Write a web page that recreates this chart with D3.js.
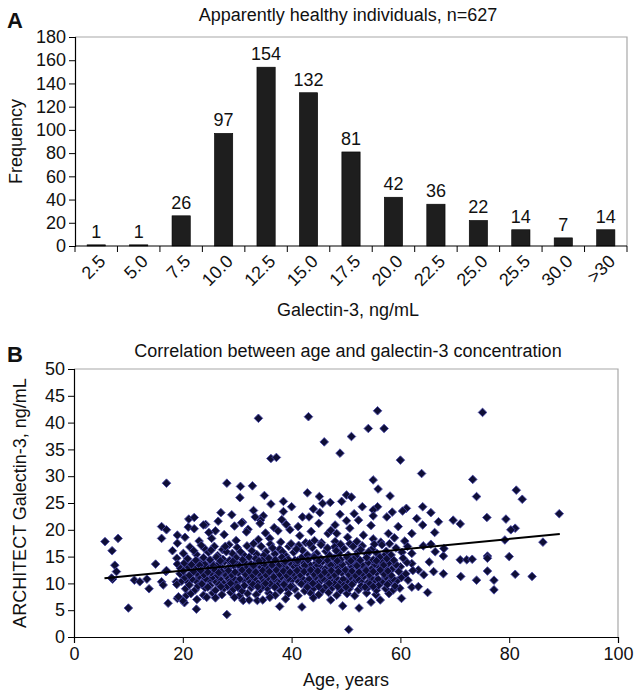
<!DOCTYPE html>
<html><head><meta charset="utf-8">
<script src="https://cdn.jsdelivr.net/npm/d3@7"></script>
<style>
body{margin:0;background:#fff}
text{font-family:"Liberation Sans",Arial,Helvetica,sans-serif;fill:#111}
</style>
</head><body>
<svg id="chart" width="634" height="693"></svg>
<script>
// ---------- Panel A data ----------
const binLabels = ["2.5","5.0","7.5","10.0","12.5","15.0","17.5","20.0","22.5","25.0","25.5","30.0",">30"];
const frequencies = [1,1,26,97,154,132,81,42,36,22,14,7,14];
const freqTicks = [0,20,40,60,80,100,120,140,160,180];

// ---------- Panel B data ----------
const ageTicks = [0,20,40,60,80,100];
const galTicks = [0,5,10,15,20,25,30,35,40,45,50];
const trendLine = [[5.6,10.95],[89.3,19.2]];
const scatterPoints = [
// > 30
[33.9,40.8],[43.1,41.1],[55.8,42.2],[54.1,38.9],[57.0,38.9],[51.0,37.4],[46.0,36.4],[48.9,34.3],[36.2,33.3],[37.2,33.5],[60.0,33.0],[63.9,30.5],[75.1,41.9],
// 27.5 - 30
[17.0,28.7],[28.1,28.7],[30.6,28.1],[32.8,28.2],[55.0,29.3],[73.3,29.4],[55.9,27.6],
// 25 - 27.5
[30.5,26.0],[35.0,26.4],[42.9,26.9],[45.1,26.2],[50.1,26.5],[51.0,26.1],[58.1,26.3],[74.0,26.2],[81.3,27.4],[82.4,25.7],[38.5,25.3],[49.2,25.3],[47.1,25.1],
// 22.5 - 25
[45.7,24.9],[40.0,24.3],[53.0,24.3],[55.8,24.3],[61.1,24.0],[64.1,24.3],[33.0,23.6],[38.5,23.4],[45.2,23.2],[48.9,22.9],[27.0,23.2],[55.0,23.7],[60.4,23.5],[65.6,23.2],[89.2,23.0],[34.8,22.6],[55.0,22.6],[44.0,23.9],[36.2,24.8],[51.5,23.0],[29.0,22.8],[58.5,23.3],
// 20 - 22.5
[16.1,20.6],[21.0,20.5],[22.1,20.2],[24.2,21.0],[21.1,22.0],[22.1,22.3],[29.5,20.7],[31.0,21.4],[32.0,20.1],[34.3,21.8],[33.3,22.4],[38.2,21.9],[42.0,22.4],[43.2,22.4],[50.1,21.7],[52.3,21.8],[57.5,22.4],[59.6,20.6],[63.0,22.1],[41.2,20.6],[48.0,20.9],[50.7,20.3],[64.1,20.9],[67.0,21.5],[69.7,21.8],[71.0,21.1],[75.9,22.3],[79.4,22.0],[81.1,20.3],[30.8,21.3],[34.2,21.2],[23.8,20.9],[45.0,21.2],[26.5,21.6],[36.8,20.4],[54.6,20.8],[39.0,21.0],
// 17.5 - 20
[5.7,17.8],[8.1,18.4],[16.1,18.4],[19.0,19.0],[17.0,20.0],[25.3,18.4],[36.0,18.4],[39.7,20.0],[46.7,19.3],[48.3,19.3],[53.2,19.0],[55.0,18.3],[57.8,19.3],[62.1,19.3],[66.3,19.5],[79.2,18.1],[86.2,17.7],[80.3,20.0],[48.0,17.8],[45.5,17.6],[20.4,18.6],[23.0,17.9],[27.6,19.1],[29.8,18.0],[31.7,19.6],[33.9,18.2],[38.0,17.7],[41.5,18.9],[43.6,19.7],[44.2,18.0],[50.3,18.6],[52.0,17.8],[56.4,17.7],[58.9,18.5],[60.8,17.9],[26.0,19.8],[35.2,19.4],[42.6,17.6],[24.8,19.5],[37.5,19.8],[47.2,19.9],
// 15 - 17.5
[7.0,16.1],[18.1,16.1],[19.0,17.5],[20.1,15.6],[24.1,16.4],[62.1,15.6],[66.4,15.9],[67.9,15.1],[76.0,15.1],[64.2,17.0],[65.6,17.3],[68.0,16.5],[50.7,17.4],
[21.3,16.8],[22.5,15.4],[23.4,17.1],[24.7,15.8],[25.8,16.9],[26.4,15.2],[27.3,16.3],[28.5,17.2],[29.1,15.6],[30.0,16.7],[31.2,15.3],[31.8,17.0],[32.7,16.1],[33.6,15.4],[34.4,16.9],[35.3,15.9],[36.1,17.3],[36.9,15.5],[37.8,16.4],[38.9,15.2],[39.5,16.9],[40.4,15.8],[41.3,17.1],[42.0,16.2],[42.9,15.3],[43.8,16.7],[44.6,15.6],[45.4,17.2],[46.3,16.0],[47.0,15.2],[47.9,16.8],[48.7,15.7],[49.6,16.5],[50.4,15.3],[51.3,16.9],[52.2,15.9],[53.0,17.0],[53.9,15.4],[54.8,16.4],[55.7,15.6],[56.6,17.2],[57.4,16.0],[58.3,15.3],[59.2,16.6],[60.3,15.8],[61.3,16.9],[25.2,16.2],[28.0,15.9],[33.0,17.4],[38.3,15.9],[43.3,17.4],[49.0,17.3],[52.7,16.3],[55.2,17.3],[58.0,17.4],[34.9,15.2],[40.9,16.4],[46.6,16.6],[30.6,15.9],[44.1,15.1],[57.0,15.1],[22.0,16.1],[36.5,16.6],[51.8,15.1],[48.2,16.1],[27.8,16.9],[39.9,17.4],[54.2,15.9],
// 12.5 - 15
[7.5,13.4],[15.0,13.6],[18.9,14.7],[62.1,13.7],[65.3,14.0],[71.0,14.4],[72.2,14.4],[73.2,14.5],[76.0,14.7],[80.0,15.0],[19.0,13.6],
[19.6,12.8],[21.0,13.1],[22.2,12.7],[23.5,13.2],[24.6,12.9],[25.9,12.6],[27.0,13.1],[28.3,12.8],[29.4,13.3],[30.7,12.7],[31.8,13.0],[33.1,12.6],[34.2,13.2],[35.5,12.9],[36.6,12.7],[37.9,13.1],[39.0,12.8],[40.3,13.3],[41.4,12.6],[42.7,13.0],[43.8,12.8],[45.1,13.2],[46.2,12.7],[47.5,13.1],[48.6,12.9],[49.9,12.6],[51.0,13.2],[52.3,12.8],[53.4,13.0],[54.7,12.7],[55.8,13.3],[57.1,12.9],[58.4,12.6],[60.0,13.1],
[20.3,13.8],[21.6,13.5],[22.9,14.0],[24.0,13.6],[25.3,13.9],[26.5,13.5],[27.7,14.1],[28.9,13.7],[30.1,13.5],[31.3,14.0],[32.5,13.6],[33.7,13.9],[34.9,13.5],[36.1,14.1],[37.3,13.7],[38.5,13.5],[39.7,13.9],[40.9,13.6],[42.1,14.0],[43.3,13.5],[44.5,13.8],[45.7,14.1],[46.9,13.6],[48.1,13.9],[49.3,13.5],[50.5,14.0],[51.7,13.7],[52.9,13.5],[54.1,13.9],[55.3,13.6],[56.5,14.1],[57.8,13.7],[59.2,13.5],[61.2,13.9],
[20.9,14.6],[22.4,14.3],[23.8,14.8],[25.0,14.4],[26.2,14.9],[27.4,14.5],[28.6,14.3],[29.8,14.8],[31.0,14.4],[32.2,14.9],[33.4,14.6],[34.6,14.3],[35.8,14.7],[37.0,14.4],[38.2,14.9],[39.4,14.5],[40.6,14.3],[41.8,14.8],[43.0,14.4],[44.2,14.9],[45.4,14.6],[46.6,14.3],[47.8,14.7],[49.0,14.4],[50.2,14.9],[51.4,14.5],[52.6,14.3],[53.8,14.8],[55.0,14.4],[56.2,14.9],[57.5,14.6],[58.8,14.3],[60.5,14.7],
[23.1,13.4],[26.9,14.2],[30.4,13.3],[34.0,14.2],[37.6,13.3],[41.1,14.2],[44.8,13.4],[48.4,14.2],[52.0,13.3],[55.6,14.2],[29.2,14.1],[38.8,14.1],[47.2,13.4],[56.9,13.4],[33.0,13.3],[42.4,13.3],[50.9,14.2],[25.6,13.3],[36.4,13.4],[45.0,14.2],
// 10 - 12.5
[7.1,10.8],[11.1,10.6],[12.1,10.3],[13.4,10.8],[6.9,11.0],[7.8,12.2],[16.9,12.2],[16.1,10.3],[18.8,10.3],[17.0,12.4],[66.1,12.2],[67.9,11.8],[71.1,11.3],[76.0,12.3],[81.1,11.7],[84.2,11.3],[74.0,10.6],[77.2,10.6],[64.3,11.6],[63.3,12.5],[61.4,10.6],
[19.8,10.4],[21.0,10.2],[22.4,10.5],[23.6,10.1],[24.9,10.6],[26.1,10.3],[27.4,10.1],[28.6,10.5],[29.9,10.2],[31.2,10.6],[32.4,10.3],[33.7,10.1],[34.9,10.5],[36.2,10.2],[37.5,10.4],[38.7,10.1],[40.0,10.6],[41.3,10.3],[42.5,10.1],[43.8,10.5],[45.1,10.2],[46.3,10.6],[47.6,10.3],[48.9,10.1],[50.2,10.5],[51.4,10.2],[52.7,10.4],[54.0,10.1],[55.3,10.6],[56.6,10.3],[58.0,10.2],[59.4,10.5],
[20.4,11.1],[21.7,10.8],[23.0,11.3],[24.2,10.9],[25.5,11.2],[26.8,10.8],[28.0,11.3],[29.3,11.0],[30.5,10.8],[31.8,11.2],[33.1,10.9],[34.3,11.3],[35.6,11.0],[36.8,10.8],[38.1,11.2],[39.4,10.9],[40.6,11.3],[41.9,11.0],[43.2,10.8],[44.4,11.2],[45.7,10.9],[47.0,11.3],[48.2,11.0],[49.5,10.8],[50.8,11.2],[52.1,10.9],[53.3,11.3],[54.6,11.0],[55.9,10.8],[57.3,11.2],[58.6,10.9],[60.2,11.1],
[19.5,11.8],[21.2,11.5],[22.6,11.9],[23.9,11.6],[25.2,12.0],[26.4,11.5],[27.7,11.8],[29.0,11.6],[30.2,12.0],[31.5,11.7],[32.8,11.5],[34.0,11.9],[35.3,11.6],[36.5,12.0],[37.8,11.7],[39.1,11.5],[40.3,11.9],[41.6,11.6],[42.9,12.0],[44.1,11.7],[45.4,11.5],[46.7,11.9],[47.9,11.6],[49.2,12.0],[50.5,11.7],[51.7,11.5],[53.0,11.9],[54.3,11.6],[55.6,12.0],[57.0,11.7],[58.3,11.5],[61.0,11.8],
[20.1,12.3],[22.0,12.2],[23.3,12.4],[24.6,12.1],[25.9,12.5],[27.1,12.2],[28.4,12.4],[29.6,12.1],[30.9,12.5],[32.2,12.3],[33.4,12.1],[34.7,12.4],[35.9,12.2],[37.2,12.5],[38.5,12.3],[39.7,12.1],[41.0,12.4],[42.3,12.2],[43.5,12.5],[44.8,12.3],[46.1,12.1],[47.3,12.4],[48.6,12.2],[49.9,12.5],[51.1,12.3],[52.4,12.1],[53.7,12.4],[55.0,12.2],[56.3,12.5],[57.7,12.3],[59.7,12.2],[62.3,12.4],[26.6,12.0],[36.7,11.2],
// 7.5 - 10
[13.8,9.0],[16.4,9.7],[18.9,9.8],[20.7,7.8],[59.9,9.1],[62.1,9.3],[63.3,9.4],[65.0,8.3],[77.2,8.8],
[21.5,8.1],[23.8,7.8],[25.5,8.2],[27.2,7.9],[28.8,8.3],[30.4,7.7],[31.9,8.1],[33.5,7.9],[35.8,8.2],[37.0,7.8],[39.4,8.1],[41.2,7.7],[43.5,8.2],[45.0,7.9],[46.8,8.3],[48.3,7.8],[50.2,8.1],[51.6,7.7],[53.8,8.2],[55.5,7.9],[57.9,8.1],
[20.5,9.0],[22.3,8.8],[24.1,9.2],[26.0,8.7],[27.6,9.1],[29.3,8.9],[30.9,8.6],[32.6,9.2],[34.2,8.8],[35.5,9.1],[37.9,8.7],[39.0,9.2],[40.6,8.9],[42.4,8.6],[44.1,9.1],[45.7,8.8],[47.5,9.2],[49.0,8.7],[50.6,9.0],[52.3,8.8],[54.0,9.2],[55.6,8.7],[57.3,9.0],[58.7,8.8],
[21.2,9.7],[22.8,9.5],[23.5,9.9],[25.0,9.6],[26.7,9.8],[28.2,9.5],[29.8,9.9],[31.3,9.6],[32.9,9.8],[34.7,9.5],[36.1,9.9],[37.4,9.6],[38.6,9.8],[40.1,9.5],[41.8,9.9],[43.0,9.6],[44.7,9.8],[46.3,9.5],[47.9,9.9],[49.6,9.6],[51.1,9.8],[52.8,9.5],[54.4,9.9],[56.0,9.6],[57.6,9.8],[59.0,9.5],[24.6,9.3],[33.8,9.4],[42.9,9.3],[48.5,9.4],[36.9,9.3],[45.0,9.4],[27.0,9.4],[53.5,9.3],[30.1,9.3],[39.8,9.4],[50.0,9.3],[55.0,9.4],[43.9,10.0],[35.2,10.0],[28.8,10.0],[46.9,10.0],
// 5 - 7.5
[10.0,5.4],[17.3,6.3],[20.3,6.4],[20.0,6.8],[22.5,5.2],[22.6,7.0],[31.1,6.8],[32.2,6.9],[33.7,6.8],[34.7,6.9],[37.8,5.7],[41.9,5.6],[47.2,6.9],[49.4,5.8],[52.4,5.4],[54.6,6.5],[56.3,6.9],[19.0,7.2],[24.4,7.4],[19.2,7.5],[44.0,7.3],[29.5,7.4],[38.9,7.1],[26.0,7.3],[60.2,7.2],[36.0,7.4],
// < 5
[28.1,4.2],[50.5,1.4]
];

const svg = d3.select("#chart");
svg.append("rect").attr("width",634).attr("height",693).attr("fill","#fff");
const FS = 18;

// ================= Panel A =================
const ax0 = 75, ax1 = 627, ay0 = 246, ay1 = 37;
const xA = d3.scaleBand().domain(binLabels).range([ax0, ax1]).paddingInner(0.57).paddingOuter(0.285);
const yA = d3.scaleLinear().domain([0,180]).range([ay0, ay1]);
const gA = svg.append("g");

// box (gray top/right)
gA.append("path").attr("d",`M${ax0},${ay1}H${ax1}V${ay0}`).attr("fill","none").attr("stroke","#a8a8a8").attr("stroke-width",1.2);

gA.selectAll("rect.bar").data(frequencies).join("rect").attr("class","bar")
  .attr("x",(d,i)=>xA(binLabels[i])).attr("width",xA.bandwidth())
  .attr("y",d=>yA(d)).attr("height",d=>yA(0)-yA(d))
  .attr("fill","#1e1e1e").attr("stroke","#000").attr("stroke-width",0.6);

gA.selectAll("text.val").data(frequencies).join("text").attr("class","val")
  .attr("x",(d,i)=>xA(binLabels[i])+xA.bandwidth()/2).attr("y",d=>yA(d)-7)
  .attr("text-anchor","middle").attr("font-size",FS).text(d=>d);

// y axis
const yAxisA = gA.append("g").attr("transform",`translate(${ax0},0)`)
  .call(d3.axisLeft(yA).tickValues(freqTicks).tickSize(6).tickPadding(3));
yAxisA.select(".domain").attr("stroke","#000").attr("stroke-width",1.2);
yAxisA.selectAll("line").attr("stroke","#000").attr("stroke-width",1);
yAxisA.selectAll("text").attr("font-size",FS).attr("font-family",'"Liberation Sans",Arial,sans-serif').attr("fill","#111");

// x axis with ticks at category boundaries
gA.append("line").attr("x1",ax0).attr("x2",ax1).attr("y1",ay0).attr("y2",ay0).attr("stroke","#000").attr("stroke-width",1.2);
const step = xA.step();
const bounds = binLabels.map(l => xA(l) - (step - xA.bandwidth())/2).concat([ax1]);
gA.selectAll("line.xt").data(bounds).join("line").attr("class","xt")
  .attr("x1",d=>d).attr("x2",d=>d).attr("y1",ay0).attr("y2",ay0+6).attr("stroke","#000").attr("stroke-width",1);
gA.selectAll("text.xl").data(binLabels).join("text").attr("class","xl")
  .attr("transform",d=>`translate(${xA(d)+xA.bandwidth()/2+6},${ay0+12}) rotate(-45)`)
  .attr("text-anchor","end").attr("dy","0.35em").attr("font-size",FS).text(d=>d);

gA.append("text").attr("x",348).attr("y",316).attr("text-anchor","middle").attr("font-size",FS).text("Galectin-3, ng/mL");
gA.append("text").attr("transform",`translate(22,${(ay0+ay1)/2}) rotate(-90)`).attr("text-anchor","middle").attr("font-size",FS).text("Frequency");
gA.append("text").attr("x",348).attr("y",21).attr("text-anchor","middle").attr("font-size",FS).text("Apparently healthy individuals, n=627");
gA.append("text").attr("x",7).attr("y",28).attr("font-size",22).attr("font-weight","bold").text("A");

// ================= Panel B =================
const bx0 = 74, bx1 = 618, by0 = 637, by1 = 369;
const xB = d3.scaleLinear().domain([0,100]).range([bx0,bx1]);
const yB = d3.scaleLinear().domain([0,50]).range([by0,by1]);
const gB = svg.append("g");

gB.append("path").attr("d",`M${bx0},${by1}H${bx1}V${by0}`).attr("fill","none").attr("stroke","#a8a8a8").attr("stroke-width",1.2);

const diamond = "M0,-4.3L4.3,0L0,4.3L-4.3,0Z";
gB.selectAll("path.pt").data(scatterPoints).join("path").attr("class","pt")
  .attr("d",diamond).attr("transform",d=>`translate(${xB(d[0])},${yB(d[1])})`)
  .attr("fill","#0e0e36").attr("stroke","#4a4aa8").attr("stroke-width",0.9);

gB.append("line")
  .attr("x1",xB(trendLine[0][0])).attr("y1",yB(trendLine[0][1]))
  .attr("x2",xB(trendLine[1][0])).attr("y2",yB(trendLine[1][1]))
  .attr("stroke","#000").attr("stroke-width",2);

const yAxisB = gB.append("g").attr("transform",`translate(${bx0},0)`)
  .call(d3.axisLeft(yB).tickValues(galTicks).tickSize(6).tickPadding(3));
const xAxisB = gB.append("g").attr("transform",`translate(0,${by0})`)
  .call(d3.axisBottom(xB).tickValues(ageTicks).tickSize(6).tickPadding(4));
[yAxisB,xAxisB].forEach(a=>{
  a.select(".domain").attr("stroke","#000").attr("stroke-width",1.2);
  a.selectAll("line").attr("stroke","#000").attr("stroke-width",1);
  a.selectAll("text").attr("font-size",FS).attr("font-family",'"Liberation Sans",Arial,sans-serif').attr("fill","#111");
});

gB.append("text").attr("x",346).attr("y",686).attr("text-anchor","middle").attr("font-size",FS).text("Age, years");
gB.append("text").attr("transform",`translate(26,${(by0+by1)/2}) rotate(-90)`).attr("text-anchor","middle").attr("font-size",FS).text("ARCHITECT Galectin-3, ng/mL");
gB.append("text").attr("x",348).attr("y",357).attr("text-anchor","middle").attr("font-size",FS).text("Correlation between age and galectin-3 concentration");
gB.append("text").attr("x",7).attr("y",362).attr("font-size",22).attr("font-weight","bold").text("B");
</script>
</body></html>
